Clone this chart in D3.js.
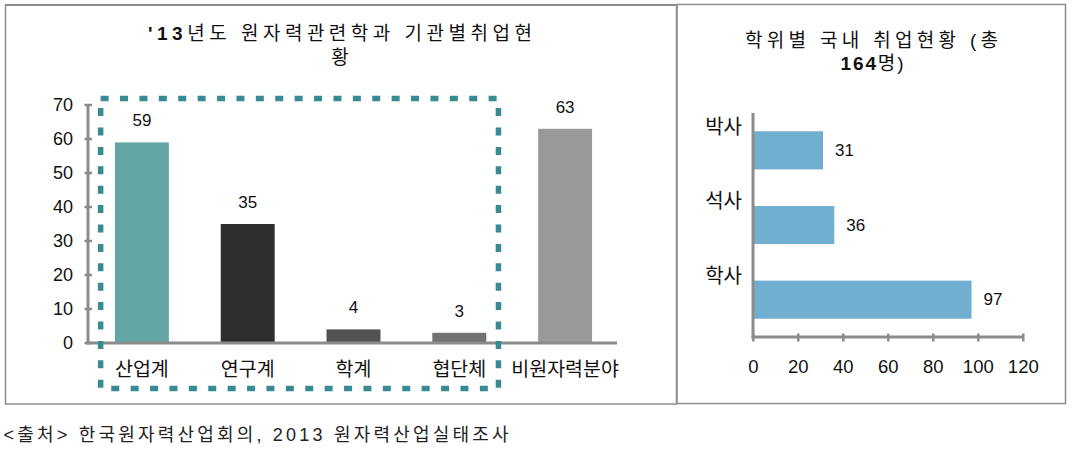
<!DOCTYPE html>
<html>
<head>
<meta charset="utf-8">
<script src="https://cdn.jsdelivr.net/npm/d3@7"></script>
<style>
  html, body { margin: 0; padding: 0; background: #fff; }
  svg { display: block; }
  text { font-family: "Liberation Sans", "Noto Sans CJK KR", sans-serif; fill: #111; }
</style>
</head>
<body>
<svg id="chart" width="1077" height="458"></svg>
<script>
// ---- Data ----
const orgCategories = ["산업계", "연구계", "학계", "협단체", "비원자력분야"];
const orgValues = [59, 35, 4, 3, 63];
const orgColors = ["#63a6a3", "#2e2e2e", "#525252", "#727272", "#999999"];
const orgTicks = [0, 10, 20, 30, 40, 50, 60, 70];

const degreeCategories = ["박사", "석사", "학사"];
const degreeValues = [31, 36, 97];
const degreeTicks = [0, 20, 40, 60, 80, 100, 120];

const leftTitle = ["'13", "년도 원자력관련학과 기관별취업현", "황"];
const rightTitle = ["학위별 국내 취업현황 (총", "164", "명)"];
const sourceText = "<출처> 한국원자력산업회의, 2013 원자력산업실태조사";

// ---- Drawing ----
const svg = d3.select("#chart");
const axisColor = "#8c8c8c";

// panel frames
svg.append("rect").attr("x", 5.5).attr("y", 5).attr("width", 671).attr("height", 399)
  .attr("fill", "none").attr("stroke", axisColor).attr("stroke-width", 1.5);
svg.append("line").attr("x1", 5).attr("x2", 677).attr("y1", 5).attr("y2", 5)
  .attr("stroke", axisColor).attr("stroke-width", 2);
svg.append("rect").attr("x", 677).attr("y", 4.5).attr("width", 388.5).attr("height", 399)
  .attr("fill", "none").attr("stroke", axisColor).attr("stroke-width", 1.5);

// ===== Left chart =====
const xL = d3.scaleBand().domain(orgCategories).range([89, 618])
  .paddingInner(0.49).paddingOuter(0.245);
const yL = d3.scaleLinear().domain([0, 70]).range([343, 105]);

// titles
const t1 = svg.append("text").attr("x", 340).attr("y", 33).attr("text-anchor", "middle")
  .attr("dominant-baseline", "central").style("font-size", "19px")
  .attr("textLength", 384).attr("lengthAdjust", "spacing");
t1.append("tspan").style("font-weight", "bold").text(leftTitle[0]);
t1.append("tspan").text(leftTitle[1]);
svg.append("text").attr("x", 340).attr("y", 57.5).attr("text-anchor", "middle")
  .attr("dominant-baseline", "central").style("font-size", "19px")
  .text(leftTitle[2]);

// bars
svg.append("g").selectAll("rect").data(orgValues).join("rect")
  .attr("x", (d, i) => xL(orgCategories[i]))
  .attr("width", xL.bandwidth())
  .attr("y", d => yL(d))
  .attr("height", d => yL(0) - yL(d))
  .attr("fill", (d, i) => orgColors[i]);

// value labels
svg.append("g").selectAll("text").data(orgValues).join("text")
  .attr("x", (d, i) => xL(orgCategories[i]) + xL.bandwidth() / 2)
  .attr("y", d => yL(d) - 16)
  .attr("text-anchor", "middle")
  .style("font-size", "17px")
  .text(d => d);

// y axis
const axL = svg.append("g");
axL.append("line").attr("x1", 88).attr("x2", 88).attr("y1", yL(70)).attr("y2", yL(0) + 1.5)
  .attr("stroke", axisColor).attr("stroke-width", 3);
axL.selectAll("line.tick").data(orgTicks).join("line").attr("class", "tick")
  .attr("x1", 84.5).attr("x2", 92).attr("y1", d => yL(d)).attr("y2", d => yL(d))
  .attr("stroke", axisColor).attr("stroke-width", 2.5);
axL.selectAll("text").data(orgTicks).join("text")
  .attr("x", 73).attr("y", d => yL(d)).attr("text-anchor", "end")
  .attr("dominant-baseline", "central").style("font-size", "18px")
  .text(d => d);

// x axis baseline
svg.append("line").attr("x1", 86.5).attr("x2", 617).attr("y1", yL(0)).attr("y2", yL(0))
  .attr("stroke", axisColor).attr("stroke-width", 3);

// x labels
svg.append("g").selectAll("text").data(orgCategories).join("text")
  .attr("x", d => xL(d) + xL.bandwidth() / 2)
  .attr("y", 369)
  .attr("text-anchor", "middle")
  .attr("dominant-baseline", "central")
  .style("font-size", "19.5px")
  .text(d => d);

// dashed highlight box around nuclear-related categories
const boxLeft = xL(orgCategories[0]) - xL.step() * 0.135;
const boxRight = xL(orgCategories[3]) + xL.bandwidth() + xL.step() * 0.115;
svg.append("rect")
  .attr("x", boxLeft).attr("y", 98.5)
  .attr("width", boxRight - boxLeft).attr("height", 290)
  .attr("fill", "none").attr("stroke", "#388a93").attr("stroke-width", 5.5)
  .attr("stroke-dasharray", "8 11.4");

// ===== Right chart =====
const xR = d3.scaleLinear().domain([0, 120]).range([753.3, 1023.3]);
const yR = d3.scaleBand().domain(degreeCategories).range([113, 337])
  .paddingInner(0.49).paddingOuter(0.245);

svg.append("text").attr("x", 871.5).attr("y", 40).attr("text-anchor", "middle")
  .attr("dominant-baseline", "central").style("font-size", "19px")
  .attr("textLength", 253).attr("lengthAdjust", "spacing")
  .text(rightTitle[0]);
const t2 = svg.append("text").attr("x", 872).attr("y", 63).attr("text-anchor", "middle")
  .attr("dominant-baseline", "central").style("font-size", "19px")
  .attr("textLength", 63).attr("lengthAdjust", "spacing");
t2.append("tspan").style("font-weight", "bold").text(rightTitle[1]);
t2.append("tspan").text(rightTitle[2]);

svg.append("g").selectAll("rect").data(degreeValues).join("rect")
  .attr("x", xR(0))
  .attr("y", (d, i) => yR(degreeCategories[i]))
  .attr("width", d => xR(d) - xR(0))
  .attr("height", yR.bandwidth())
  .attr("fill", "#71afd0");

svg.append("g").selectAll("text").data(degreeValues).join("text")
  .attr("x", d => xR(d) + 12)
  .attr("y", (d, i) => yR(degreeCategories[i]) + yR.bandwidth() / 2)
  .attr("dominant-baseline", "central")
  .style("font-size", "17px")
  .text(d => d);

// category labels
svg.append("g").selectAll("text").data(degreeCategories).join("text")
  .attr("x", 742)
  .attr("y", d => yR(d) - yR.step() * 0.06)
  .attr("text-anchor", "end")
  .attr("dominant-baseline", "central")
  .style("font-size", "20px")
  .text(d => d);

// axes
svg.append("line").attr("x1", 753).attr("x2", 753).attr("y1", 113).attr("y2", 338.5)
  .attr("stroke", axisColor).attr("stroke-width", 3);
svg.append("line").attr("x1", 751.5).attr("x2", xR(120)).attr("y1", 337).attr("y2", 337)
  .attr("stroke", axisColor).attr("stroke-width", 3);
svg.append("g").selectAll("line").data(degreeTicks).join("line")
  .attr("x1", d => xR(d)).attr("x2", d => xR(d)).attr("y1", 333.5).attr("y2", 341.5)
  .attr("stroke", axisColor).attr("stroke-width", 2.5);
svg.append("g").selectAll("text").data(degreeTicks).join("text")
  .attr("x", d => xR(d)).attr("y", 366.5)
  .attr("text-anchor", "middle").attr("dominant-baseline", "central")
  .style("font-size", "18.5px")
  .text(d => d);

// source
svg.append("text").attr("x", 3.5).attr("y", 435)
  .attr("dominant-baseline", "central").style("font-size", "18px")
  .attr("textLength", 505).attr("lengthAdjust", "spacing")
  .style("fill", "#222")
  .text(sourceText);
</script>
</body>
</html>
